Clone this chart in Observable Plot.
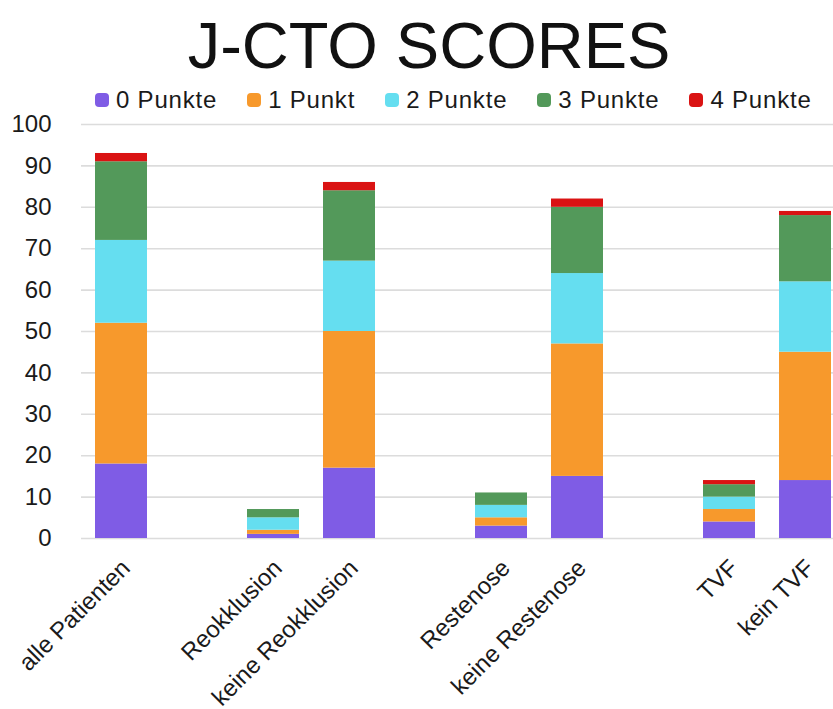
<!DOCTYPE html>
<html lang="de">
<head>
<meta charset="utf-8">
<script src="https://cdn.jsdelivr.net/npm/d3@7"></script>
<script src="https://cdn.jsdelivr.net/npm/@observablehq/plot@0.6"></script>
<style>
  html, body { margin: 0; padding: 0; background: #fff; }
  #wrap {
    position: relative; width: 833px; height: 709px; overflow: hidden;
    font-family: "Liberation Sans", Arial, Helvetica, sans-serif; color: #1a1a1a;
  }
  #title {
    position: absolute; left: 0; top: 13px; width: 858px; margin: 0;
    text-align: center; font-size: 65px; line-height: 65px; font-weight: normal; color: #111;
  }
  #legend {
    position: absolute; left: 95px; top: 88px; display: flex; gap: 30px;
    font-size: 24px; line-height: 24px; letter-spacing: 0.8px; white-space: nowrap;
  }
  #legend .item { display: flex; align-items: center; }
  #legend .swatch { width: 14px; height: 14px; border-radius: 4px; margin-right: 7px; }
  #chart { position: absolute; left: 0; top: 110px; }
</style>
</head>
<body>
<div id="wrap">
  <h1 id="title">J-CTO SCORES</h1>
  <div id="legend"></div>
  <div id="chart"></div>
</div>
<script>
// Patient groups (x axis) and J-CTO score counts per group
const categories = ["alle Patienten", "Reokklusion", "keine Reokklusion", "Restenose", "keine Restenose", "TVF", "kein TVF"];
const seriesNames = ["0 Punkte", "1 Punkt", "2 Punkte", "3 Punkte", "4 Punkte"];
const seriesColors = ["#7f5ce5", "#f7992c", "#65def0", "#53995a", "#da1313"];
const punkte0 = [18, 1, 17, 3, 15, 4, 14];
const punkte1 = [34, 1, 33, 2, 32, 3, 31];
const punkte2 = [20, 3, 17, 3, 17, 3, 17];
const punkte3 = [19, 2, 17, 3, 16, 3, 16];
const punkte4 = [2, 0, 2, 0, 2, 1, 1];
const yTicks = [0, 10, 20, 30, 40, 50, 60, 70, 80, 90, 100];

// groups are separated by an empty slot on the x axis
const groupStarts = new Set(["Reokklusion", "Restenose", "TVF"]);
const xDomain = [];
categories.forEach((c, i) => {
  if (groupStarts.has(c)) xDomain.push("gap" + i);
  xDomain.push(c);
});

const seriesValues = [punkte0, punkte1, punkte2, punkte3, punkte4];
const rows = [];
seriesNames.forEach((s, si) => {
  categories.forEach((c, ci) => rows.push({category: c, series: s, value: seriesValues[si][ci]}));
});

// legend
const legend = document.getElementById("legend");
seriesNames.forEach((s, i) => {
  const item = document.createElement("div");
  item.className = "item";
  const sw = document.createElement("span");
  sw.className = "swatch";
  sw.style.background = seriesColors[i];
  const label = document.createElement("span");
  label.textContent = s;
  item.append(sw, label);
  legend.append(item);
});

const chart = Plot.plot({
  width: 833,
  height: 599,
  marginLeft: 81,
  marginRight: 0,
  marginTop: 14,
  marginBottom: 171,
  style: {fontFamily: "'Liberation Sans', Arial, Helvetica, sans-serif", color: "#1a1a1a", background: "transparent"},
  x: {domain: xDomain, range: [80.5, 845.5], paddingInner: 0.32, paddingOuter: 0.16, axis: null},
  y: {domain: [0, 100], axis: null},
  color: {domain: seriesNames, range: seriesColors},
  marks: [
    Plot.ruleY(yTicks, {stroke: "#dcdcdc", strokeWidth: 1.6}),
    Plot.axisY(yTicks, {tickSize: 0, tickPadding: 30, fontSize: 24, fill: "#1a1a1a", label: null}),
    Plot.barY(rows, Plot.stackY({
      x: "category", y: "value", fill: "series",
      order: seriesNames
    })),
    Plot.text(categories, {
      x: d => d, y: () => 0, text: d => d,
      rotate: -45, textAnchor: "end", lineAnchor: "bottom",
      dx: 10, dy: 31, fontSize: 24, fill: "#1a1a1a"
    })
  ]
});
document.getElementById("chart").append(chart);
</script>
</body>
</html>
